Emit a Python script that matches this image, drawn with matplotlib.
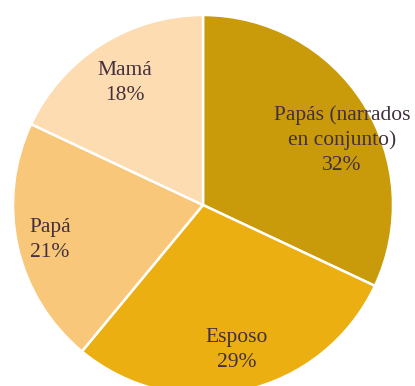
import matplotlib
matplotlib.use("Agg")
import matplotlib.pyplot as plt
import numpy as np

categories = ["Papás (narrados\nen conjunto)", "Esposo", "Papá", "Mamá"]
values = [32, 29, 21, 18]
colors = ["#C99A0A", "#EBAF12", "#F8C77A", "#FCDCB0"]

# label placement (fraction of radius, angle in degrees)
label_r = [0.807, 0.784, 0.826, 0.762]
label_ang = [25.1, -76.8, 192.9, 122.6]

fig = plt.figure(figsize=(4.15, 3.86), dpi=100)
R = 190
cx, cy = 203, 386 - 205
ax = fig.add_axes([(cx - R) / 415, (cy - R) / 386, 2 * R / 415, 2 * R / 386])

labels = [f"{c}\n{v}%" for c, v in zip(categories, values)]
wedges, texts = ax.pie(
    values, labels=labels, colors=colors, startangle=90, counterclock=False,
    labeldistance=0.78,
    wedgeprops=dict(edgecolor="white", linewidth=1.8),
    textprops=dict(ha="center", va="center", multialignment="center",
                   fontsize=15.5, family="Liberation Serif", color="#43303F",
                   linespacing=1.38),
)
for t, r, a in zip(texts, label_r, label_ang):
    t.set_position((r * np.cos(np.radians(a)), r * np.sin(np.radians(a))))

ax.set_xlim(-1, 1)
ax.set_ylim(-1, 1)
ax.set_aspect("equal")
ax.axis("off")

fig.savefig("out.png", dpi=100)
